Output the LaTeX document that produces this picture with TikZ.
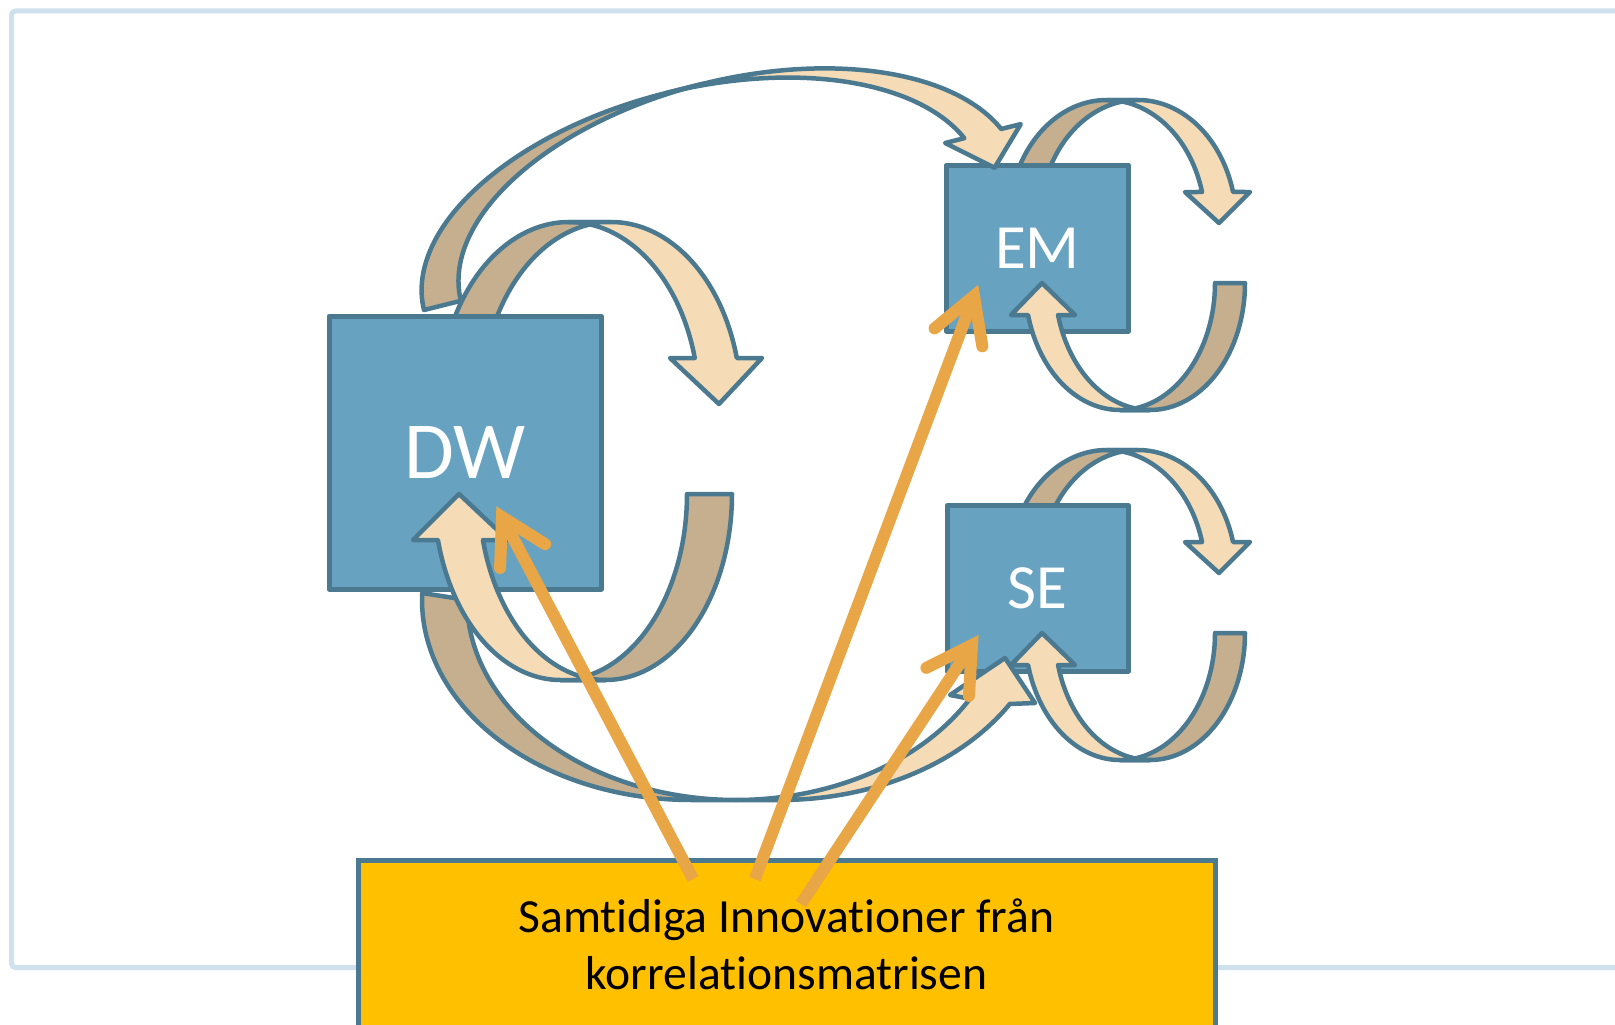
\documentclass[tikz,border=0pt]{standalone}
\usepackage{fontspec}
\setmainfont{Carlito}[Ligatures=NoCommon]
\usetikzlibrary{calc}
\definecolor{frameblue}{RGB}{207,225,236}
\definecolor{boxblue}{RGB}{104,162,193}
\definecolor{edgeblue}{RGB}{75,121,144}
\definecolor{bandlight}{RGB}{245,220,183}
\definecolor{banddark}{RGB}{198,175,143}
\definecolor{shockorange}{RGB}{232,166,70}
\definecolor{notegold}{RGB}{255,192,0}
\tikzset{
  varbox/.style={draw=edgeblue, fill=boxblue, line width=5pt, line join=round,
    inner sep=0pt, text=white},
  bandfront/.style={draw=edgeblue, fill=bandlight, line width=4.5pt, line join=round},
  bandback/.style={draw=edgeblue, fill=banddark, line width=4.5pt, line join=round},
  shockline/.style={draw=shockorange, line width=12pt, line cap=butt},
  shockhead/.style={draw=shockorange, line width=12pt, line cap=round, line join=miter},
  notebox/.style={draw=edgeblue, fill=notegold, line width=5pt, align=center,
    inner sep=0pt, font=\fontsize{47.6}{57}\selectfont},
  es/.style={variable=\t, samples=60}
}
\begin{document}
\begin{tikzpicture}[x=1pt,y=-1pt]
\useasboundingbox (0,0) rectangle (1615,1025);
\clip (0,0) rectangle (1615,1025);
\fill[white] (0,0) rectangle (1615,1025);

% slide frame
\draw[frameblue, line width=5pt, rounded corners=4pt]
  (1640,11) -- (11.5,11) -- (11.5,967.5) -- (1640,967.5);

% ---- feedback loops that pass behind the boxes ----
% DW, upper loop
\filldraw[bandback]
  plot[es,domain=180:270] ({569+130*cos(\t)},{404+182*sin(\t)})
  -- plot[es,domain=270:180] ({611+130*cos(\t)},{404+182*sin(\t)}) -- cycle;
\filldraw[bandfront]
  plot[es,domain=270:345.36] ({611+130*cos(\t)},{404+182*sin(\t)})
  -- (762,358) -- (719,404) -- (670,358)
  -- plot[es,domain=345.36:270] ({569+130*cos(\t)},{404+182*sin(\t)}) -- cycle;

% EM and SE, upper loops
\foreach \dy in {0,350}{
\begin{scope}[shift={(0,\dy)}]
\filldraw[bandback]
  plot[es,domain=180:270] ({1106.8+98.4*cos(\t)},{223+123*sin(\t)})
  -- plot[es,domain=270:180] ({1137.8+98.4*cos(\t)},{223+123*sin(\t)}) -- cycle;
\filldraw[bandfront]
  plot[es,domain=270:345.4] ({1137.8+98.4*cos(\t)},{223+123*sin(\t)})
  -- (1250,192) -- (1219,223) -- (1185,192)
  -- plot[es,domain=345.4:270] ({1106.8+98.4*cos(\t)},{223+123*sin(\t)}) -- cycle;
\end{scope}
}

% ---- variables ----
\node[varbox, minimum width=272pt, minimum height=273pt,
  font=\fontsize{81}{97}\selectfont] (dw) at (465,452.5) {DW};
\node[varbox, minimum width=182pt, minimum height=166pt,
  font=\fontsize{63}{76}\selectfont] (em) at (1037.5,248) {EM};
\node[varbox, minimum width=181.5pt, minimum height=165.5pt,
  font=\fontsize{63}{76}\selectfont] (se) at (1037.75,588.25) {SE};

% ---- DW -> EM, long arc over the top ----
\begin{scope}[shift={(424,310)}, rotate=14]
\filldraw[bandback]
  plot[es,domain=180:270] ({287+287*cos(\t)},{152*sin(\t)})
  -- plot[es,domain=270:180] ({325+287*cos(\t)},{152*sin(\t)}) -- cycle;
\filldraw[bandfront]
  plot[es,domain=270:346.3] ({325+287*cos(\t)},{152*sin(\t)})
  -- (624,-36) -- (588,0) -- (546,-36)
  -- plot[es,domain=346.3:270] ({287+287*cos(\t)},{152*sin(\t)}) -- cycle;
\end{scope}

% ---- DW -> SE, long arc underneath ----
\filldraw[bandback]
  plot[es,domain=182:90] ({691+269*cos(\t)},{600+200*sin(\t)})
  -- plot[es,domain=90:180] ({736+269*cos(\t)},{600+200*sin(\t)}) -- cycle;
\filldraw[bandfront]
  plot[es,domain=90:31.33] ({780+269*cos(\t)},{600+200*sin(\t)})
  -- (1035,703) -- (1005,658) -- (950,695)
  -- plot[es,domain=29.6:90] ({736+269*cos(\t)},{600+200*sin(\t)}) -- cycle;

% ---- lower loops, heads over the boxes ----
% DW
\filldraw[bandback]
  plot[es,domain=0:90] ({605.5+126.5*cos(\t)},{494+186*sin(\t)})
  -- plot[es,domain=90:0] ({560.5+126.5*cos(\t)},{494+186*sin(\t)}) -- cycle;
\filldraw[bandfront]
  plot[es,domain=90:165.68] ({560.5+126.5*cos(\t)},{494+186*sin(\t)})
  -- (413,540) -- (459,494) -- (508,540)
  -- plot[es,domain=165.68:90] ({605.5+126.5*cos(\t)},{494+186*sin(\t)}) -- cycle;

% EM and SE
\foreach \dy in {0,350}{
\begin{scope}[shift={(0,\dy)}]
\filldraw[bandback]
  plot[es,domain=0:90] ({1150+95*cos(\t)},{283+127*sin(\t)})
  -- plot[es,domain=90:0] ({1120+95*cos(\t)},{283+127*sin(\t)}) -- cycle;
\filldraw[bandfront]
  plot[es,domain=90:165.4] ({1120+95*cos(\t)},{283+127*sin(\t)})
  -- (1011,315) -- (1042,283) -- (1075,315)
  -- plot[es,domain=165.4:90] ({1150+95*cos(\t)},{283+127*sin(\t)}) -- cycle;
\end{scope}
}

% ---- contemporaneous innovations ----
\node[notebox, minimum width=857pt, minimum height=169pt] (note) at (786.5,944.5)
  {Samtidiga Innovationer från\\korrelationsmatrisen};

\coordinate (srcDW) at (693,879);
\coordinate (srcEM) at (755,879);
\coordinate (srcSE) at (801,904);
\coordinate (tipDW) at (502,517);
\coordinate (tipEM) at (974,296);
\coordinate (tipSE) at (972,645);

\foreach \s/\e in {srcDW/tipDW, srcEM/tipEM, srcSE/tipSE}{
  \draw[shockline] (\s) -- (\e);
  \draw[shockhead] ($(\e)!51pt!30:(\s)$) -- (\e) -- ($(\e)!51pt!-30:(\s)$);
}
\end{tikzpicture}
\end{document}
